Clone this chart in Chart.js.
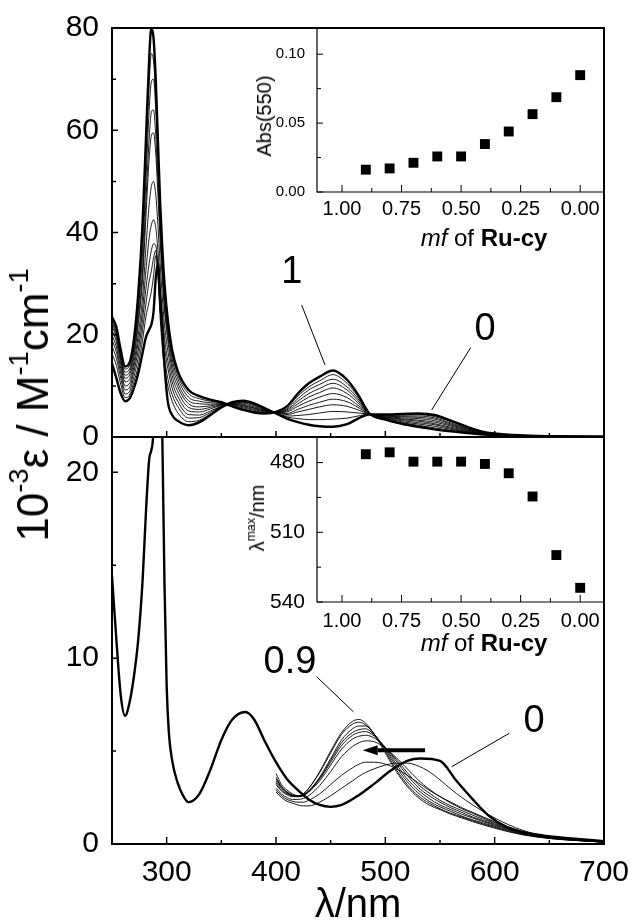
<!DOCTYPE html>
<html>
<head>
<meta charset="utf-8">
<script src="https://cdn.jsdelivr.net/npm/chart.js@4.4.1/dist/chart.umd.min.js"></script>
<style>
html, body { margin: 0; padding: 0; background: #fff; }
#wrap { position: relative; width: 634px; height: 922px; overflow: hidden; font-family: "Liberation Sans", Arial, sans-serif; color: #000; }
#wrap canvas { position: absolute; left: 0; top: 0; }
.t { position: absolute; white-space: nowrap; line-height: 1; transform: translate(-50%, -50%); }
.r { transform: translate(-50%, -50%) rotate(-90deg); }
sup { font-size: 62%; vertical-align: 0.75em; line-height: 0; }
</style>
</head>
<body>
<div id="wrap">
  <canvas id="cTop" width="634" height="922"></canvas>
  <canvas id="cBot" width="634" height="922"></canvas>
  <canvas id="cIn1" width="634" height="922"></canvas>
  <canvas id="cIn2" width="634" height="922"></canvas>
  <div class="t r" style="left:33px;top:405px;font-size:44px">10<sup>-3</sup>ε / M<sup>-1</sup>cm<sup>-1</sup></div>
  <div class="t" style="left:358px;top:903px;font-size:40px">λ/nm</div>
  <div class="t r" style="left:264px;top:116px;font-size:20px">Abs(550)</div>
  <div class="t" style="left:484px;top:238px;font-size:24px"><i>mf</i> of <b>Ru-cy</b></div>
  <div class="t r" style="left:257px;top:518px;font-size:20px">λ<sup>max</sup>/nm</div>
  <div class="t" style="left:484px;top:643px;font-size:24px"><i>mf</i> of <b>Ru-cy</b></div>
</div>
<script>
// --- upper panel: spectra for mf = 1.0 ... 0.0 ---
const topNm = [250,254,258,262,266,270,274,278,281,284,286,288,290,292,294,296,298,301,305,310,320,330,340,350,360,370,380,390,400,410,420,430,440,452,465,475,485,500,515,530,545,560,575,590,610,640,700];
const mf10 = [23.5,21.5,17,13.8,14.5,19, 28,42,58,74,80,78,70,58,46,37,30,23, 17,13,9.2,8.0,7.3,6.8,6.0,5.3,4.8,4.6,4.9, 6.0,8.5,10.5,11.8,13.0,11.2,8.3,4.7, 3.4,2.6,2.0,1.5,1.1,0.75,0.5,0.3,0.15,0.05];
const mf09 = [23.2,21,16.5,13.3,14,18, 26,39,54,69,75,73.5,66.5,55.5,44,35.5,28.5,22, 16.2,12.2,8.5,7.5,7.0,6.7,6.1,5.5,5.0,4.7,4.9, 5.8,8.0,9.8,11.0,12.2,10.5,7.9,4.7, 3.5,2.8,2.3,1.8,1.3,0.9,0.55,0.32,0.16,0.05];
const mf08 = [22.8,20.5,16,12.7,13.3,17.2, 24.5,36,50,64,69.5,70,64,54,43,34.5,27.5,21, 15.3,11.5,7.8,7.0,6.7,6.6,6.2,5.7,5.2,4.8,4.85, 5.5,7.5,9.2,10.3,11.3,9.8,7.5,4.7, 3.6,3.0,2.55,2.1,1.5,1.0,0.6,0.34,0.16,0.05];
const mf07 = [22.3,20,15.5,12.1,12.7,16.4, 23,33,46,58.5,63.5,64,59,50,40.5,32.5,26,20, 14.3,10.7,7.1,6.5,6.4,6.5,6.3,5.9,5.4,4.9,4.8, 5.3,7.0,8.5,9.5,10.5,9.2,7.1,4.65, 3.7,3.2,2.8,2.4,1.7,1.1,0.65,0.36,0.17,0.05];
const mf06 = [21.8,19.4,15,11.5,12.1,15.6, 22,31,43,54.5,59,59.5,55.5,47.5,38.5,31,25,19, 13.2,9.9,6.5,5.9,6.1,6.4,6.4,6.1,5.6,5.0,4.8, 5.1,6.5,7.8,8.7,9.6,8.5,6.7,4.6, 3.8,3.4,3.1,2.6,1.9,1.25,0.7,0.38,0.17,0.05];
const mf05 = [21,18.6,14.3,10.8,11.3,14.6, 20,27.5,37,45.5,49,50,47.5,41.5,34,27.5,22,17, 12,9,5.8,5.4,5.8,6.3,6.4,6.2,5.7,5.1,4.75, 4.9,6.0,7.0,7.8,8.5,7.7,6.2,4.6, 3.9,3.55,3.3,2.9,2.15,1.35,0.75,0.4,0.18,0.05];
const mf04 = [20,17.6,13.4,10,10.5,13.7, 18.5,25,32.5,39,41.5,42.5,41,36.5,30,24.5,19.5,15, 10.8,8.0,5.1,4.9,5.5,6.2,6.5,6.4,5.9,5.2,4.7, 4.6,5.4,6.2,6.8,7.4,6.9,5.8,4.55, 4.0,3.75,3.6,3.2,2.35,1.5,0.8,0.42,0.18,0.05];
const mf03 = [19,16.6,12.5,9.2,9.7,12.8, 17,23,29,34,36.5,37.8,37.5,33.5,27.5,22,17.5,13.5, 9.6,7.0,4.4,4.3,5.1,6.0,6.6,6.6,6.1,5.3,4.7, 4.4,4.9,5.4,5.9,6.3,6.0,5.3,4.5, 4.1,3.95,3.85,3.5,2.55,1.6,0.85,0.44,0.19,0.05];
const mf02 = [17.8,15.4,11.5,8.4,8.9,11.8, 15.5,21,26,30.5,32.5,35,36.5,32,25,19.5,15.5,11.5, 8.3,6.0,3.7,3.8,4.8,6.0,6.6,6.8,6.3,5.4,4.65, 4.1,4.2,4.4,4.7,5.0,4.9,4.7,4.5, 4.2,4.1,4.1,3.75,2.75,1.75,0.9,0.46,0.19,0.05];
const mf01 = [16.3,14,10.3,7.7,8.2,10.8, 14,19,23.5,26.5,28.5,31.5,35.5,31.5,23.5,17.5,13.5,10, 7.0,4.8,3.0,3.3,4.5,5.9,6.7,6.9,6.4,5.5,4.6, 3.9,3.6,3.4,3.4,3.5,3.7,4.1,4.45, 4.3,4.3,4.35,4.0,3.0,1.9,0.95,0.48,0.2,0.05];
const mf00 = [14.4,11.5,8.5,7.0,7.5,9.5, 12.5,16.5,19.5,21,22,24.5,31,34,27,21,14,7, 4.3,3.2,2.3,2.9,4.3,5.8,6.8,7.1,6.6,5.6,4.6, 3.6,2.9,2.4,2.1,2.0,2.5,3.6,4.4, 4.4,4.5,4.6,4.3,3.2,2.0,1.0,0.5,0.2,0.05];

// --- lower panel: mf = 0 full spectrum, mf = 0.9 ... 0.1 visible region ---
const botNm = [250,254,258,262,266,270,274,278,281,284,286,288,290,292,294,296,298,300,302,305,310,315,320,330,340,350,360,372,380,390,400,410,420,430,440,450,460,475,490,505,520,532,550,565,580,595,610,625,645,670,700];
const botZero = [14.4,11.0,8.0,6.9,7.6,9.0, 11.0,14.2,17.8,20.7,21.2,22.5,30,34,27,22,14,8.5,6.0, 4.5,3.3,2.6,2.25, 2.7,4.0,5.6,6.7,7.1,6.7,5.5,4.4, 3.5,2.9,2.4,2.1,2.0,2.1,2.6,3.25, 3.95,4.47,4.6,4.47,3.4,2.4,1.5,0.95,0.65,0.45,0.3,0.15];
const visNm = [400,405,410,415,420,425,430,440,450,460,470,476,482,490,500,510,520,530,540,550,560,570,580,600,625,650,700];
const vis09 = [3.6,3.1,2.8,2.6,2.55,2.7,3.0,3.9,5.0,6.0,6.6,6.7,6.5,5.9,4.9,3.9,3.1,2.5,2.1,1.85,1.6,1.4,1.2,0.85,0.5,0.3,0.1];
const vis08 = [3.8,3.2,2.9,2.7,2.6,2.7,3.0,3.85,4.9,5.9,6.45,6.55,6.4,5.9,5.0,4.0,3.2,2.6,2.2,1.9,1.65,1.45,1.25,0.9,0.52,0.3,0.1];
const vis07 = [3.4,3.0,2.75,2.6,2.55,2.6,2.85,3.6,4.6,5.6,6.2,6.35,6.35,5.9,5.1,4.15,3.35,2.75,2.3,2.0,1.75,1.5,1.3,0.95,0.55,0.32,0.1];
const vis06 = [3.5,3.05,2.8,2.65,2.6,2.65,2.85,3.55,4.5,5.45,6.0,6.15,6.2,5.85,5.15,4.3,3.5,2.9,2.45,2.1,1.85,1.6,1.4,1.0,0.58,0.33,0.1];
const vis05 = [3.3,2.9,2.7,2.6,2.6,2.65,2.85,3.5,4.4,5.3,5.85,6.0,6.05,5.8,5.2,4.45,3.7,3.05,2.6,2.25,1.95,1.7,1.45,1.05,0.6,0.34,0.1];
const vis04 = [3.2,2.85,2.65,2.55,2.55,2.6,2.8,3.4,4.25,5.1,5.65,5.8,5.85,5.7,5.2,4.55,3.85,3.2,2.75,2.35,2.05,1.8,1.55,1.1,0.62,0.35,0.1];
const vis03 = [3.0,2.7,2.5,2.4,2.4,2.45,2.6,3.15,3.9,4.7,5.25,5.45,5.55,5.5,5.15,4.65,4.05,3.45,2.95,2.55,2.2,1.9,1.65,1.15,0.65,0.37,0.1];
const vis02 = [2.9,2.6,2.4,2.3,2.25,2.25,2.35,2.7,3.2,3.7,4.1,4.3,4.4,4.4,4.3,4.05,3.7,3.3,2.9,2.55,2.25,1.95,1.7,1.2,0.68,0.38,0.1];
const vis01 = [2.8,2.5,2.3,2.2,2.1,2.05,2.05,2.25,2.6,3.0,3.4,3.65,3.85,4.05,4.25,4.35,4.35,4.2,3.9,3.45,2.95,2.5,2.1,1.4,0.75,0.4,0.1];

// --- insets ---
const mfVals = [0.9, 0.8, 0.7, 0.6, 0.5, 0.4, 0.3, 0.2, 0.1, 0.0];
const abs550 = [0.0162, 0.0171, 0.0212, 0.0258, 0.0258, 0.0348, 0.0439, 0.0565, 0.0688, 0.0848];
const lamMax = [476.4, 475.6, 479.6, 479.6, 479.6, 480.6, 484.6, 494.6, 519.8, 533.9];

// tick labels
const nmTicks = [300, 400, 500, 600, 700];
const nmMinor = [350, 450, 550, 650];
const epsTopTicks = [0, 20, 40, 60, 80];
const epsTopMinor = [10, 30, 50, 70];
const epsBotTicks = [0, 10, 20];
const epsBotMinor = [5, 15];
const mfTicks = [1, 0.75, 0.5, 0.25, 0];
const mfMinor = [0.875, 0.625, 0.375, 0.125];
const absTicks = [0, 0.05, 0.10];
const absMinor = [0.025, 0.075];
const lamTicks = [480, 510, 540];
const lamMinor = [495, 525];

const FONT = '"Liberation Sans", Arial, sans-serif';
Chart.defaults.font.family = FONT;
Chart.defaults.color = '#000';

function pts(xs, ys) {
    return xs.map((x, i) => ({ x: x, y: ys[i] }));
}
function curve(xs, ys, w) {
    return {
        data: pts(xs, ys),
        borderColor: '#000',
        borderWidth: w,
        pointRadius: 0,
        fill: false,
        cubicInterpolationMode: 'monotone'
    };
}
function tickList(major, minor, lMaj, lMin) {
    return major.map(v => ({ v: v, l: lMaj })).concat(minor.map(v => ({ v: v, l: lMin })));
}
function fixTicks(list) {
    return s => { s.ticks = list.map(v => ({ value: v })); };
}

// ticks pointing inside + frame
const frameTicks = {
    id: 'frameTicks',
    afterDraw(chart, args, o) {
        const ctx = chart.ctx, a = chart.chartArea;
        ctx.save();
        ctx.strokeStyle = '#000';
        ctx.lineWidth = o.tickWidth;
        ctx.beginPath();
        (o.x || []).forEach(t => {
            const px = chart.scales.x.getPixelForValue(t.v);
            ctx.moveTo(px, a.bottom);
            ctx.lineTo(px, a.bottom - t.l);
        });
        (o.y || []).forEach(t => {
            const py = chart.scales.y.getPixelForValue(t.v);
            ctx.moveTo(a.left, py);
            ctx.lineTo(a.left + t.l, py);
        });
        ctx.stroke();
        ctx.lineWidth = o.frame;
        if (o.box) {
            ctx.strokeRect(a.left, a.top, a.right - a.left, a.bottom - a.top);
        } else {
            ctx.beginPath();
            ctx.moveTo(a.left, a.top);
            ctx.lineTo(a.left, a.bottom);
            ctx.lineTo(a.right, a.bottom);
            ctx.stroke();
        }
        ctx.restore();
    }
};

// big labels, leader lines and the arrow
const notes = {
    id: 'notes',
    afterDatasetsDraw(chart, args, o) {
        if (!o.labels) return;
        const ctx = chart.ctx, sx = chart.scales.x, sy = chart.scales.y;
        const P = p => [sx.getPixelForValue(p[0]), sy.getPixelForValue(p[1])];
        ctx.save();
        ctx.fillStyle = '#000';
        ctx.strokeStyle = '#000';
        ctx.font = '38px ' + FONT;
        ctx.textAlign = 'center';
        ctx.textBaseline = 'alphabetic';
        o.labels.forEach(l => {
            const p = P(l.at);
            ctx.fillText(l.text, p[0], p[1]);
        });
        ctx.lineWidth = 1;
        o.leaders.forEach(l => {
            const a = P(l[0]), b = P(l[1]);
            ctx.beginPath();
            ctx.moveTo(a[0], a[1]);
            ctx.lineTo(b[0], b[1]);
            ctx.stroke();
        });
        if (o.arrow) {
            const a = P(o.arrow[0]), b = P(o.arrow[1]);
            const dx = b[0] - a[0], dy = b[1] - a[1], len = Math.hypot(dx, dy);
            const ux = dx / len, uy = dy / len, head = 15, hw = 5;
            ctx.lineWidth = 4;
            ctx.beginPath();
            ctx.moveTo(a[0], a[1]);
            ctx.lineTo(b[0] - ux * head, b[1] - uy * head);
            ctx.stroke();
            ctx.beginPath();
            ctx.moveTo(b[0], b[1]);
            ctx.lineTo(b[0] - ux * head - uy * hw, b[1] - uy * head + ux * hw);
            ctx.lineTo(b[0] - ux * head + uy * hw, b[1] - uy * head - ux * hw);
            ctx.closePath();
            ctx.fill();
        }
        ctx.restore();
    }
};

const noTip = { legend: { display: false }, tooltip: { enabled: false } };
const XAXIS_H = 40;

// upper panel
new Chart(document.getElementById('cTop'), {
    type: 'line',
    data: {
        datasets: [
            curve(topNm, mf10, 2.4), curve(topNm, mf00, 2.4),
            curve(topNm, mf09, 0.9), curve(topNm, mf08, 0.9), curve(topNm, mf07, 0.9),
            curve(topNm, mf06, 0.9), curve(topNm, mf05, 0.9), curve(topNm, mf04, 0.9),
            curve(topNm, mf03, 0.9), curve(topNm, mf02, 0.9), curve(topNm, mf01, 0.9)
        ]
    },
    plugins: [frameTicks, notes],
    options: {
        responsive: false,
        animation: false,
        layout: { padding: { left: 0, top: 28, right: 30, bottom: 922 - 437 - XAXIS_H } },
        plugins: Object.assign({
            frameTicks: {
                x: tickList(nmTicks, nmMinor, 6, 4),
                y: tickList(epsTopTicks, epsTopMinor, 6, 4),
                tickWidth: 1.5, frame: 2, box: true
            },
            notes: {
                labels: [{ text: '1', at: [414.4, 30.1] }, { text: '0', at: [591.2, 19.0] }],
                leaders: [[[423.5, 25.8], [444.8, 14.1]], [[578.1, 17.5], [542.4, 5.3]]]
            }
        }, noTip),
        scales: {
            x: {
                type: 'linear', min: 250, max: 700,
                grid: { display: false }, border: { display: false },
                ticks: { display: false },
                afterFit: s => { s.height = XAXIS_H; }
            },
            y: {
                min: 0, max: 80,
                grid: { display: false }, border: { display: false },
                ticks: { font: { size: 30 }, padding: 5 },
                afterBuildTicks: fixTicks(epsTopTicks),
                afterFit: s => { s.width = 112; }
            }
        }
    }
});

// lower panel
new Chart(document.getElementById('cBot'), {
    type: 'line',
    data: {
        datasets: [
            curve(botNm, botZero, 2.4),
            curve(visNm, vis09, 0.9), curve(visNm, vis08, 0.9), curve(visNm, vis07, 0.9),
            curve(visNm, vis06, 0.9), curve(visNm, vis05, 0.9), curve(visNm, vis04, 0.9),
            curve(visNm, vis03, 0.9), curve(visNm, vis02, 0.9), curve(visNm, vis01, 0.9)
        ]
    },
    plugins: [frameTicks, notes],
    options: {
        responsive: false,
        animation: false,
        layout: { padding: { left: 0, top: 437, right: 30, bottom: 922 - 844 - XAXIS_H } },
        plugins: Object.assign({
            frameTicks: {
                x: tickList(nmTicks, nmMinor, 7, 4),
                y: tickList(epsBotTicks, epsBotMinor, 6, 4),
                tickWidth: 1.5, frame: 2, box: true
            },
            notes: {
                labels: [{ text: '0.9', at: [412.8, 9.19] }, { text: '0', at: [636, 6.04] }],
                leaders: [[[437.2, 9.0], [470.7, 7.12]], [[613.4, 5.96], [560.7, 4.16]]],
                arrow: [[536.3, 5.05], [479.3, 5.05]]
            }
        }, noTip),
        scales: {
            x: {
                type: 'linear', min: 250, max: 700,
                grid: { display: false }, border: { display: false },
                ticks: { font: { size: 30 }, padding: 3, autoSkip: false, maxRotation: 0 },
                afterBuildTicks: fixTicks(nmTicks),
                afterFit: s => { s.height = XAXIS_H; }
            },
            y: {
                min: 0, max: 21.9,
                grid: { display: false }, border: { display: false },
                ticks: { font: { size: 30 }, padding: 5 },
                afterBuildTicks: fixTicks(epsBotTicks),
                afterFit: s => { s.width = 112; }
            }
        }
    }
});

function insetChart(id, ys, top, bottom, xPad, yOpts, yMajor, yMinor, yFont, yFmt) {
    return new Chart(document.getElementById(id), {
        type: 'scatter',
        data: {
            datasets: [{
                data: pts(mfVals, ys),
                pointStyle: 'rect',
                pointRadius: 7,
                backgroundColor: '#000',
                borderWidth: 0
            }]
        },
        plugins: [frameTicks],
        options: {
            responsive: false,
            animation: false,
            layout: { padding: { left: 0, top: top, right: 30, bottom: 922 - bottom - XAXIS_H } },
            plugins: Object.assign({
                frameTicks: {
                    x: tickList(mfTicks, mfMinor, 7, 4),
                    y: tickList(yMajor, yMinor, 6, 4),
                    tickWidth: 1, frame: 1.2, box: false
                }
            }, noTip),
            scales: {
                x: {
                    type: 'linear', min: -0.1, max: 1.105, reverse: true,
                    grid: { display: false }, border: { display: false },
                    ticks: { font: { size: 20 }, padding: xPad, autoSkip: false, maxRotation: 0, callback: v => v.toFixed(2) },
                    afterBuildTicks: fixTicks(mfTicks),
                    afterFit: s => { s.height = XAXIS_H; }
                },
                y: Object.assign({
                    grid: { display: false }, border: { display: false },
                    ticks: { font: { size: yFont }, padding: 4, callback: yFmt },
                    afterBuildTicks: fixTicks(yMajor),
                    afterFit: s => { s.width = 317; }
                }, yOpts)
            }
        }
    });
}

insetChart('cIn1', abs550, 28, 192, -3, { min: 0, max: 0.119 }, absTicks, absMinor, 15, v => v.toFixed(2));
insetChart('cIn2', lamMax, 437, 602, -1, { min: 469, max: 540, reverse: true }, lamTicks, lamMinor, 21, v => v);
</script>
</body>
</html>
